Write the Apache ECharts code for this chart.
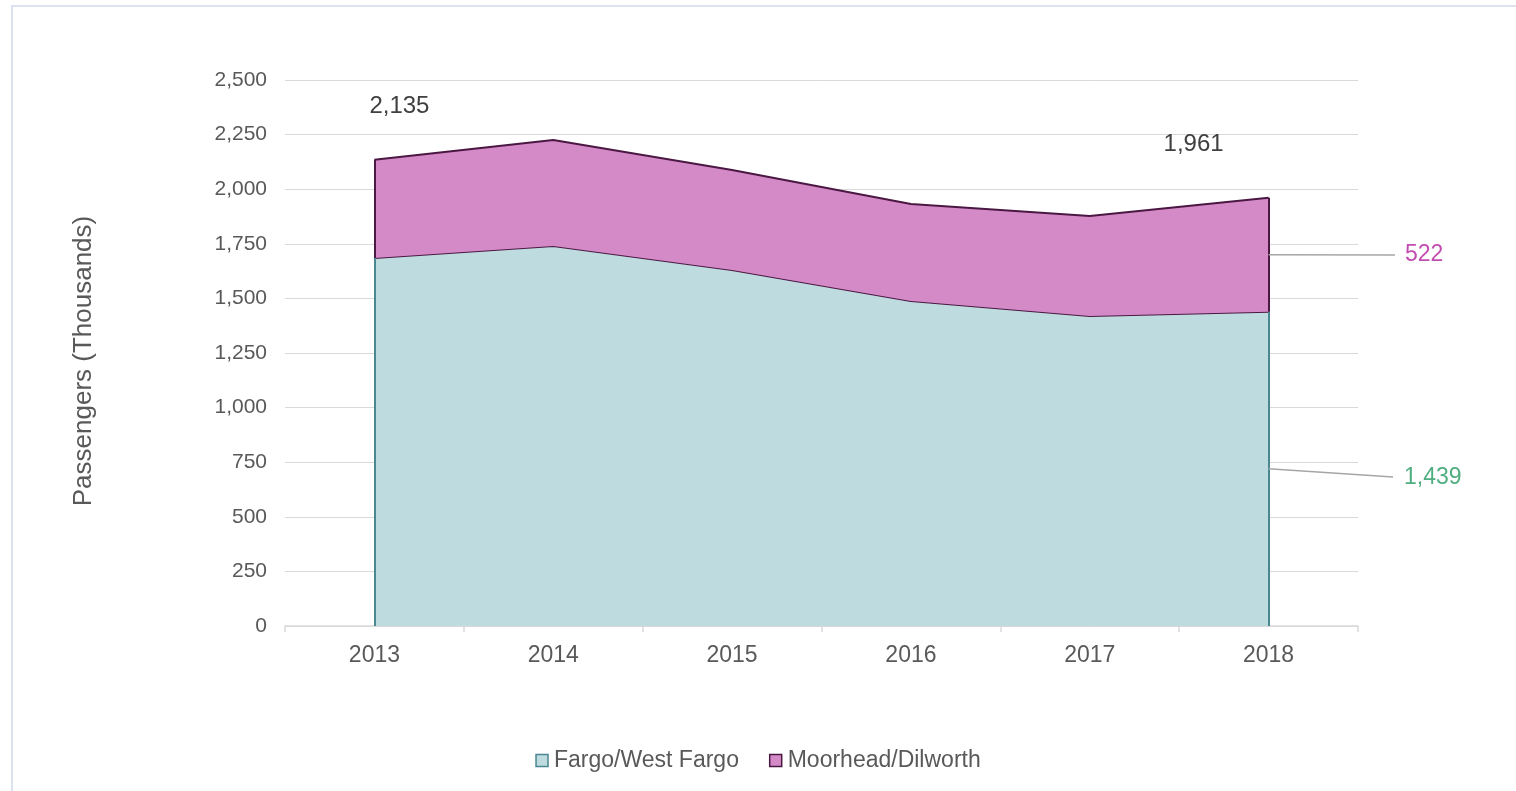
<!DOCTYPE html>
<html>
<head>
<meta charset="utf-8">
<title>Passengers</title>
<script src="https://cdn.jsdelivr.net/npm/echarts@6/dist/echarts.min.js"></script>
<style>
  html, body { margin: 0; padding: 0; background: #fff; }
  #frame {
    position: absolute; left: 11px; top: 5px; width: 1505px; height: 786px;
    border-left: 2px solid #dde2f0; border-top: 2px solid #dde2f0;
    box-sizing: border-box;
  }
  #chart { position: absolute; left: 0; top: 0; width: 1516px; height: 791px; }
</style>
</head>
<body>
<div id="frame"></div>
<div id="chart"></div>
<script>
// values (thousands of passengers)
const years = ['2013', '2014', '2015', '2016', '2017', '2018']
const fargo = [1685, 1740, 1630, 1488, 1419, 1439]
const moorhead = [450, 485, 458, 444, 458, 522]
const yMin = 0
const yMax = 2500
const yStep = 250

const fmt = (v) => Number(v).toLocaleString('en-US')
const last = years.length - 1
const totals = fargo.map((v, i) => v + moorhead[i])

const FONT = 'Liberation Sans, Arial, sans-serif'
const tealFill = '#bedcdf'
const tealLine = '#4a8790'
const pinkFill = '#d58ac8'
const plumLine = '#4a1842'

let chart = echarts.init(document.getElementById('chart'))

// vertical edge of an area, from one value to another at a category
function edge(cat, from, to, color) {
  return [
    { coord: [cat, from], lineStyle: { color: color, width: 2, type: 'solid' }, label: { show: false } },
    { coord: [cat, to] }
  ]
}

let option = {
  animation: false,
  textStyle: { fontFamily: FONT },
  grid: {
    left: 285,
    right: 158,
    top: 80,
    bottom: 165
  },
  legend: {
    top: 744,
    left: 'center',
    icon: 'rect',
    itemWidth: 12,
    itemHeight: 12,
    itemGap: 30,
    textStyle: { color: '#595959', fontSize: 23, fontFamily: FONT, padding: [0, 0, 0, 1] },
    data: [
      { name: 'Fargo/West Fargo', itemStyle: { color: tealFill, borderColor: tealLine, borderWidth: 1.5 } },
      { name: 'Moorhead/Dilworth', itemStyle: { color: pinkFill, borderColor: plumLine, borderWidth: 1.5 } }
    ]
  },
  xAxis: {
    type: 'category',
    data: years,
    boundaryGap: true,
    axisLine: { lineStyle: { color: '#d9d9d9', width: 1.5 } },
    axisTick: { show: true, length: 6, lineStyle: { color: '#d9d9d9', width: 1.5 } },
    axisLabel: { color: '#595959', fontSize: 23, margin: 18 }
  },
  yAxis: {
    type: 'value',
    min: yMin,
    max: yMax,
    interval: yStep,
    name: 'Passengers (Thousands)',
    nameLocation: 'middle',
    nameGap: 188,
    nameTextStyle: { color: '#595959', fontSize: 26, padding: [0, 16, 0, 0] },
    axisLine: { show: false },
    axisTick: { show: false },
    axisLabel: { color: '#595959', fontSize: 21, margin: 18, formatter: (v) => fmt(v) },
    splitLine: { lineStyle: { color: '#d9d9d9', width: 1 } }
  },
  series: [
    {
      name: 'Fargo/West Fargo',
      type: 'line',
      stack: 'total',
      symbol: 'none',
      itemStyle: { color: tealFill },
      lineStyle: { color: plumLine, width: 2 },
      areaStyle: { color: tealFill, opacity: 1 },
      data: fargo,
      z: 2,
      markLine: {
        silent: true,
        symbol: 'none',
        animation: false,
        data: [
          edge(years[0], 0, fargo[0], tealLine),
          edge(years[last], 0, fargo[last], tealLine),
          [{ coord: [years[last], fargo[last] / 2], lineStyle: { color: '#a6a6a6', width: 1.5, type: 'solid' } },
           { x: 1393, y: 477,
             label: { show: true, position: 'end', distance: 11, formatter: fmt(fargo[last]),
                      color: '#4fae80', fontSize: 23, fontFamily: FONT } }]
        ]
      }
    },
    {
      name: 'Moorhead/Dilworth',
      type: 'line',
      stack: 'total',
      symbol: 'circle',
      symbolSize: 0,
      showSymbol: true,
      itemStyle: { color: pinkFill },
      lineStyle: { color: plumLine, width: 2 },
      areaStyle: { color: pinkFill, opacity: 1 },
      z: 3,
      data: moorhead.map((v, i) => ({
        value: v,
        label: {
          show: i === 0 || i === last,
          position: 'top',
          offset: i === 0 ? [25, -36] : [-75, -36],
          formatter: fmt(totals[i]),
          color: '#404040',
          fontSize: 24,
          fontFamily: FONT
        }
      })),
      markLine: {
        silent: true,
        symbol: 'none',
        animation: false,
        data: [
          edge(years[0], fargo[0], totals[0], plumLine),
          edge(years[last], fargo[last], totals[last], plumLine),
          [{ coord: [years[last], fargo[last] + moorhead[last] / 2], lineStyle: { color: '#a6a6a6', width: 1.5, type: 'solid' } },
           { x: 1395, y: 255,
             label: { show: true, position: 'end', distance: 10, formatter: fmt(moorhead[last]),
                      color: '#c24db0', fontSize: 23, fontFamily: FONT, padding: [3, 0, 0, 0] } }]
        ]
      }
    }
  ]
}

chart.setOption(option)
</script>
</body>
</html>
